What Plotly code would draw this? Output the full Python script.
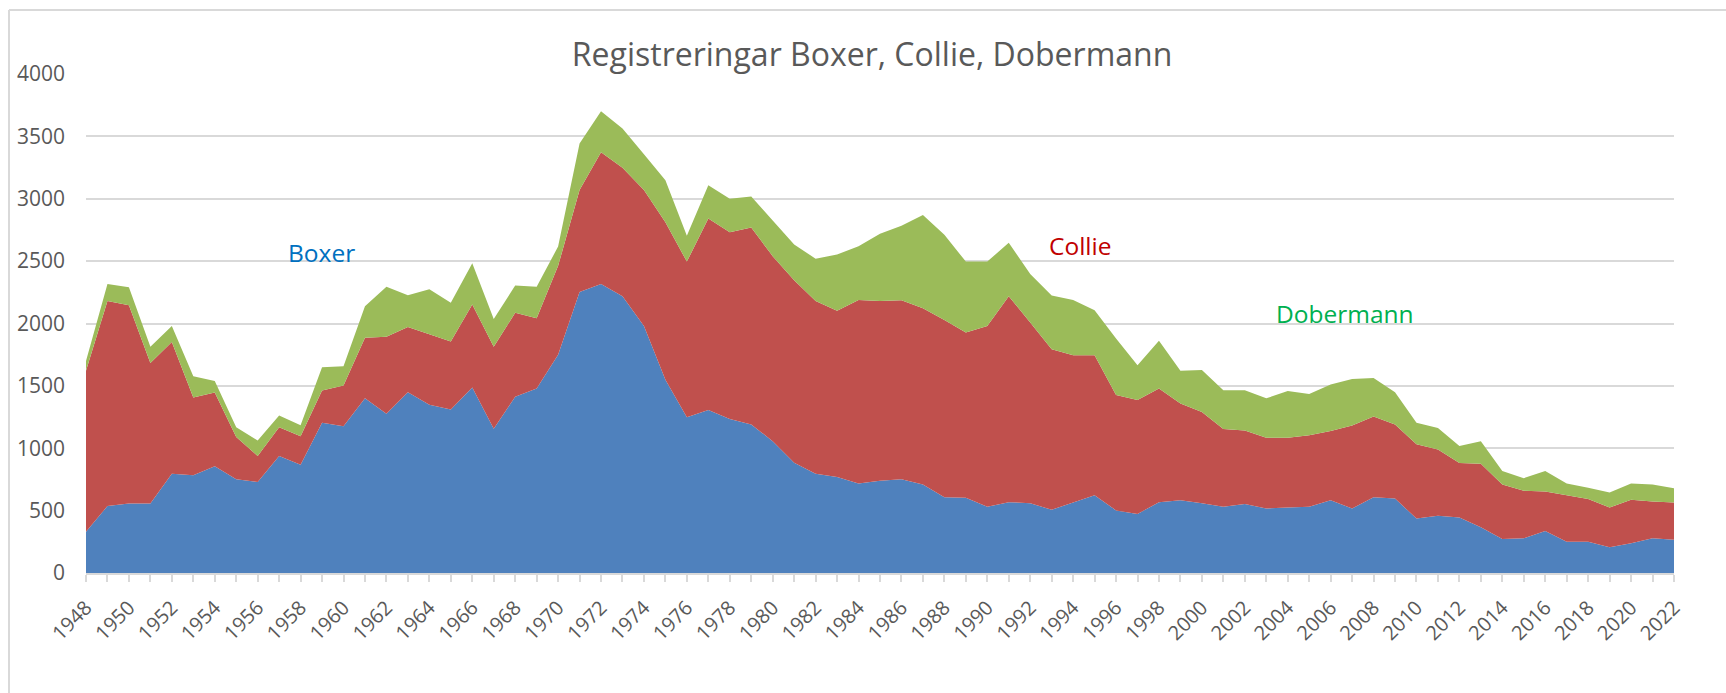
import plotly.graph_objects as go

years = list(range(1948, 2023))

boxer = [330, 537, 557, 557, 795, 783, 855, 752, 729, 938,
         867, 1205, 1176, 1400, 1277, 1449, 1349, 1311, 1486, 1156,
         1412, 1478, 1750, 2252, 2316, 2218, 1980, 1549, 1248, 1306,
         1234, 1191, 1056, 884, 795, 769, 717, 740, 752, 709,
         608, 603, 531, 568, 560, 508, 565, 623, 502, 473,
         568, 583, 560, 531, 554, 517, 525, 531, 583, 517,
         608, 597, 436, 459, 445, 367, 273, 278, 336, 250,
         250, 207, 238, 278, 267]

collie = [1291, 1644, 1589, 1127, 1056, 623, 592, 338, 209, 230,
          229, 258, 328, 485, 617, 522, 565, 545, 666, 657,
          674, 565, 712, 818, 1056, 1030, 1090, 1263, 1248, 1535,
          1498, 1578, 1484, 1463, 1386, 1334, 1472, 1441, 1434, 1414,
          1421, 1325, 1449, 1650, 1449, 1285, 1180, 1122, 924, 913,
          911, 776, 731, 623, 588, 568, 560, 574, 556, 665,
          646, 594, 597, 531, 436, 508, 436, 382, 318, 373,
          344, 318, 350, 296, 298]

dobermann = [79, 135, 144, 129, 129, 172, 93, 78, 124, 95,
             89, 187, 154, 253, 401, 256, 361, 310, 330, 224,
             218, 252, 155, 373, 329, 316, 287, 336, 207, 267,
             267, 250, 286, 287, 338, 451, 431, 539, 597, 746,
             682, 568, 516, 430, 387, 431, 444, 362, 454, 280,
             382, 262, 336, 310, 322, 315, 373, 330, 373, 373,
             310, 258, 172, 172, 138, 181, 109, 100, 164, 94,
             89, 121, 129, 135, 115]

series_names = ["Boxer", "Collie", "Dobermann"]
fill_colors = ["#4F81BD", "#C0504D", "#9BBB59"]
label_colors = ["#0070C0", "#C00000", "#00B050"]

FONT = "Open Sans"
GREY = "#595959"
GRID = "#D9D9D9"

fig = go.Figure()
for name, vals, col in zip(series_names, [boxer, collie, dobermann], fill_colors):
    fig.add_trace(go.Scatter(
        x=years, y=vals, name=name, mode="lines",
        stackgroup="one", line=dict(width=0, color=col),
        fillcolor=col, hoverinfo="x+y+name"))

# series labels
label_pos = [(1958.98, 2566), (1994.31, 2626), (2006.68, 2079)]
for name, (lx, ly), col in zip(series_names, label_pos, label_colors):
    fig.add_annotation(x=lx, y=ly, xref="x", yref="y", text=name,
                       showarrow=False, xanchor="center", yanchor="middle",
                       font=dict(family=FONT, size=24.5, color=col))

# chart frame (partially cropped like the reference)
fig.add_shape(type="line", xref="paper", yref="paper",
              x0=-0.0485, x1=-0.0485, y0=-0.4, y1=1.1283,
              line=dict(color=GRID, width=2))
fig.add_shape(type="line", xref="paper", yref="paper",
              x0=-0.0485, x1=1.2, y0=1.1283, y1=1.1283,
              line=dict(color=GRID, width=2))

fig.update_layout(
    width=1726, height=693,
    margin=dict(l=86, r=52, t=74, b=120, pad=0),
    paper_bgcolor="white", plot_bgcolor="white",
    showlegend=False,
    title=dict(text="Registreringar Boxer, Collie, Dobermann",
               x=0.495, xref="paper", xanchor="center",
               y=1 - 55 / 693, yref="container", yanchor="middle",
               font=dict(family=FONT, size=32, color=GREY)),
    xaxis=dict(range=[1948, 2022], tickmode="linear", tick0=1948, dtick=2,
               tickangle=-45, showgrid=False, zeroline=False,
               showline=True, linecolor=GRID, linewidth=2,
               ticks="outside", ticklen=7, tickwidth=2, tickcolor=GRID,
               minor=dict(dtick=1, tick0=1948, ticks="outside", ticklen=7,
                          tickwidth=2, tickcolor=GRID, showgrid=False),
               tickfont=dict(family=FONT, size=20, color=GREY),
               ticklabelstandoff=6),
    yaxis=dict(range=[0, 4000], tickmode="linear", tick0=0, dtick=500,
               showgrid=True, gridcolor=GRID, gridwidth=2,
               zeroline=False, showline=False, ticks="",
               tickfont=dict(family=FONT, size=21, color=GREY),
               ticklabelstandoff=20),
)

fig.write_html(
    "out.html",
    config={"displayModeBar": False},
    post_script="document.body.style.margin='0px';"
                "document.body.style.padding='0px';"
                "document.body.style.overflow='hidden';",
)
